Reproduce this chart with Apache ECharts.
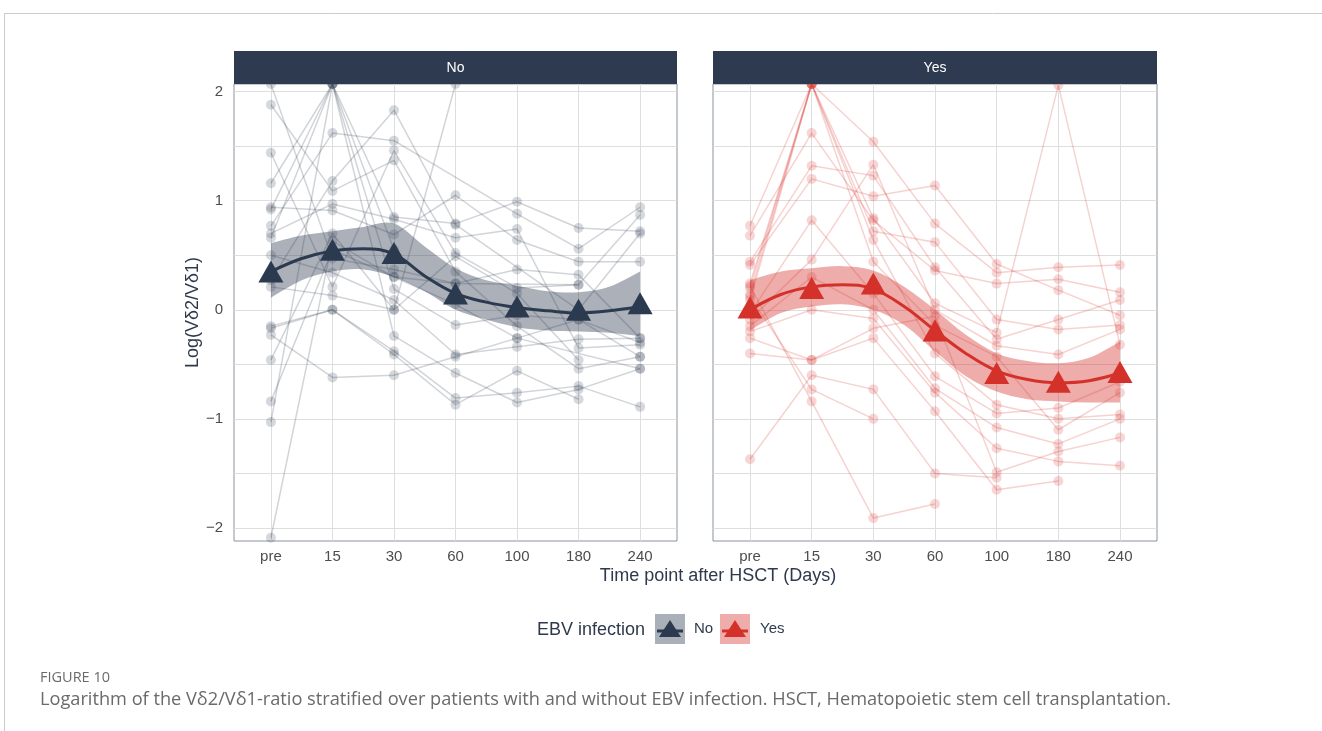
<!DOCTYPE html>
<html>
<head>
<meta charset="utf-8">
<script src="https://cdn.jsdelivr.net/npm/echarts@6/dist/echarts.min.js"></script>
<style>
  html, body { margin: 0; padding: 0; background: #ffffff; }
  #chart { width: 1322px; height: 731px; }
</style>
</head>
<body>
<div id="chart"></div>
<script>
// Time points after HSCT (x categories, placed at 0..6)
const timeLabels = ['pre', '15', '30', '60', '100', '180', '240'];
const panelNames = ['No', 'Yes'];
const yTickValues = [-2, -1.5, -1, -0.5, 0, 0.5, 1, 1.5, 2];
const yLabelValues = [-2, -1, 0, 1, 2];

// Individual patient trajectories, log(Vδ2/Vδ1) per time point (null = not measured)
const patientsNo = [
  [2.07, 0.47, 0.37, 0.24, 0.37, 0.32, -0.26],
  [1.88, 1.09, 1.37, 0.35, -0.15, -0.54, -0.43],
  [1.44, 0.21, 1.46, 0.52, 0.20, 0.23, 0.87],
  [1.16, 2.07, 0.85, 0.79, 0.99, 0.75, 0.72],
  [0.94, 0.91, 0.69, 1.05, 0.64, 0.44, 0.44],
  [0.92, 2.07, 0.19, -0.14, -0.05, -0.09, -0.30],
  [0.77, 1.62, 1.55, null, 0.88, 0.56, 0.94],
  [0.70, 0.97, 0.83, 0.66, 0.74, -0.35, -0.32],
  [0.66, 2.07, -0.24, -0.58, -0.85, -0.73, -0.54],
  [0.50, 0.34, 0.09, -0.41, -0.34, -0.27, -0.26],
  [0.27, 1.18, 1.83, 0.78, null, 0.00, 0.70],
  [0.21, 0.13, 0.00, 0.49, 0.15, -0.46, null],
  [-0.15, 0.00, -0.38, -0.81, -0.76, -0.70, -0.89],
  [-0.17, 0.00, -0.41, -0.87, -0.56, -0.82, null],
  [-0.23, -0.62, -0.60, -0.43, -0.26, -0.09, -0.43],
  [-0.46, 0.70, 0.00, 2.07, null, null, null],
  [-0.84, 0.55, 0.30, 0.05, -0.26, null, -0.54],
  [-1.03, 2.07, 0.55, null, null, null, null],
  [-2.09, 0.63, 0.30, 0.24, null, 0.23, null]
];
const patientsYes = [
  [0.20, 2.07, 1.54, 0.79, 0.34, 0.39, 0.41],
  [0.24, 2.07, 0.84, 0.06, -0.21, 2.06, -0.32],
  [0.14, 2.07, 0.72, 0.62, -0.09, -0.18, -0.14],
  [0.09, 2.07, 0.64, -0.40, -0.87, -1.00, -0.96],
  [0.77, 2.07, 0.44, -0.14, -0.43, -1.10, -0.76],
  [0.68, 1.62, 0.82, 0.36, 0.24, 0.28, 0.16],
  [0.44, 1.32, 1.23, 0.39, -0.27, -0.09, 0.09],
  [0.41, 1.20, 1.04, 1.14, 0.42, 0.18, -0.05],
  [-0.03, 0.82, 0.15, -0.61, -0.95, -0.90, -0.66],
  [-0.09, 0.46, 1.33, 0.00, -0.33, -0.41, -0.18],
  [-0.15, 0.30, 0.00, -0.72, -1.08, -1.23, -1.00],
  [-0.20, 0.00, -0.08, -0.76, -1.27, -1.39, -1.43],
  [-0.26, -0.46, -0.17, -0.06, -1.49, -1.30, -1.17],
  [-0.40, -0.46, -0.26, -0.93, -1.65, -1.57, null],
  [-1.37, -0.60, -0.73, -1.50, -1.54, null, null],
  [0.22, -0.84, -1.91, -1.78, null, null, null],
  [0.12, -0.73, -1.00, null, null, null, null]
];

// Group means per time point (triangles)
const meanNo = [0.35, 0.55, 0.52, 0.15, 0.03, 0.00, 0.06];
const meanYes = [0.02, 0.20, 0.24, -0.19, -0.58, -0.66, -0.57];

// Smoothed trend with confidence band, sampled at half steps
const fitX = [0, 0.5, 1, 1.5, 2, 2.5, 3, 3.5, 4, 4.5, 5, 5.5, 6];
const fitNo = [0.35, 0.47, 0.54, 0.56, 0.51, 0.31, 0.15, 0.07, 0.02, -0.01, -0.03, -0.01, 0.03];
const lowerNo = [0.11, 0.27, 0.35, 0.37, 0.30, 0.17, 0.00, -0.09, -0.16, -0.19, -0.20, -0.21, -0.24];
const upperNo = [0.61, 0.68, 0.72, 0.76, 0.79, 0.58, 0.38, 0.27, 0.22, 0.17, 0.16, 0.21, 0.35];
const fitYes = [0.00, 0.14, 0.21, 0.23, 0.19, 0.03, -0.19, -0.40, -0.56, -0.64, -0.67, -0.65, -0.58];
const lowerYes = [-0.19, -0.03, 0.03, 0.05, 0.00, -0.14, -0.38, -0.61, -0.75, -0.82, -0.84, -0.85, -0.85];
const upperYes = [0.27, 0.35, 0.38, 0.40, 0.36, 0.21, 0.00, -0.23, -0.40, -0.47, -0.49, -0.44, -0.29];

const colNo = '#2c3a4f';
const colYes = '#d5312b';
const textCol = '#4d4d4d';
const titleCol = '#2e3a4c';
const gridCol = '#dedede';
const fontFam = '"Liberation Sans", Arial, sans-serif';

const panels = [
  { left: 234, width: 443, color: colNo, band: 'rgba(44,58,79,0.4)', patients: patientsNo, mean: meanNo, fit: fitNo, lower: lowerNo, upper: upperNo },
  { left: 713, width: 444, color: colYes, band: 'rgba(213,49,43,0.4)', patients: patientsYes, mean: meanYes, fit: fitYes, lower: lowerYes, upper: upperYes }
];
const plotTop = 84, plotHeight = 457;

// Catmull-Rom spline through pixel points as cubic bezier path commands
function splineSegments(pts) {
  let d = '';
  for (let i = 0; i < pts.length - 1; i++) {
    const p0 = pts[Math.max(i - 1, 0)], p1 = pts[i], p2 = pts[i + 1], p3 = pts[Math.min(i + 2, pts.length - 1)];
    const c1 = [p1[0] + (p2[0] - p0[0]) / 6, p1[1] + (p2[1] - p0[1]) / 6];
    const c2 = [p2[0] - (p3[0] - p1[0]) / 6, p2[1] - (p3[1] - p1[1]) / 6];
    d += ' C' + c1[0] + ',' + c1[1] + ' ' + c2[0] + ',' + c2[1] + ' ' + p2[0] + ',' + p2[1];
  }
  return d;
}

const grids = [], xAxes = [], yAxes = [], series = [];
panels.forEach((p, gi) => {
  grids.push({
    left: p.left, width: p.width, top: plotTop, height: plotHeight,
    show: true, borderColor: '#8a939e', borderWidth: 1, backgroundColor: '#ffffff'
  });
  xAxes.push({
    type: 'value', gridIndex: gi, min: -0.6, max: 6.6,
    axisLine: { show: false },
    axisTick: { show: false, customValues: [0, 1, 2, 3, 4, 5, 6] },
    axisLabel: {
      customValues: [0, 1, 2, 3, 4, 5, 6],
      formatter: v => timeLabels[Math.round(v)],
      color: textCol, fontSize: 15, fontFamily: fontFam, margin: 8
    },
    splitLine: { show: true, lineStyle: { color: gridCol, width: 1 } }
  });
  yAxes.push({
    type: 'value', gridIndex: gi, min: -2.12, max: 2.07,
    axisLine: { show: false },
    axisTick: { show: false, customValues: yTickValues },
    axisLabel: {
      show: gi === 0,
      customValues: yLabelValues,
      formatter: v => (v < 0 ? '\u2212' + Math.abs(v) : String(v)),
      color: textCol, fontSize: 15, fontFamily: fontFam, margin: 11
    },
    splitLine: { show: true, lineStyle: { color: gridCol, width: 1 } },
    name: gi === 0 ? 'Log(Vδ2/Vδ1)' : '',
    nameLocation: 'middle', nameGap: 32, nameRotate: 90,
    nameTextStyle: { color: titleCol, fontSize: 18, fontFamily: fontFam }
  });

  // patient trajectories
  p.patients.forEach(row => {
    const pts = [];
    row.forEach((v, ti) => { if (v !== null) pts.push([ti, v]); });
    series.push({
      type: 'line', xAxisIndex: gi, yAxisIndex: gi,
      data: pts, showSymbol: true, symbol: 'circle', symbolSize: 10,
      itemStyle: { color: p.color, opacity: 0.2 },
      lineStyle: { color: p.color, opacity: 0.22, width: 1.5 },
      emphasis: { disabled: true }, silent: true, animation: false, z: 2
    });
  });

  // confidence band
  series.push({
    type: 'custom', xAxisIndex: gi, yAxisIndex: gi,
    data: fitX.map((x, i) => [x, p.lower[i], p.upper[i]]),
    encode: { x: 0, y: [1, 2] },
    renderItem: (params, api) => {
      if (params.dataIndex !== 0) return null;
      const up = fitX.map((x, i) => api.coord([x, p.upper[i]]));
      const lo = fitX.map((x, i) => api.coord([x, p.lower[i]])).reverse();
      const d = 'M' + up[0][0] + ',' + up[0][1] + splineSegments(up) +
        ' L' + lo[0][0] + ',' + lo[0][1] + splineSegments(lo) + ' Z';
      return { type: 'path', shape: { pathData: d }, style: { fill: p.band, stroke: null } };
    },
    silent: true, animation: false, z: 3
  });

  // smoothed trend line
  series.push({
    type: 'line', xAxisIndex: gi, yAxisIndex: gi,
    data: fitX.map((x, i) => [x, p.fit[i]]),
    smooth: 0.4, showSymbol: false,
    lineStyle: { color: p.color, width: 3 },
    silent: true, animation: false, z: 4
  });

  // group means
  series.push({
    type: 'scatter', xAxisIndex: gi, yAxisIndex: gi,
    data: p.mean.map((v, i) => [i, v]),
    symbol: 'triangle', symbolSize: [25, 22],
    itemStyle: { color: p.color, opacity: 1 },
    silent: true, animation: false, z: 5
  });
});

const graphics = [
  // figure frame
  { type: 'line', shape: { x1: 4, y1: 13.5, x2: 1322, y2: 13.5 }, style: { stroke: '#cccccc', lineWidth: 1 } },
  { type: 'line', shape: { x1: 4.5, y1: 13, x2: 4.5, y2: 731 }, style: { stroke: '#cccccc', lineWidth: 1 } },
  // x axis title
  { type: 'text', x: 718, y: 576, style: { text: 'Time point after HSCT (Days)', fill: titleCol, font: '18px ' + fontFam, align: 'center', verticalAlign: 'middle' } },
  // legend
  { type: 'text', x: 645, y: 630, style: { text: 'EBV infection', fill: titleCol, font: '18px ' + fontFam, align: 'right', verticalAlign: 'middle' } },
  // caption
  { type: 'text', x: 40, y: 678, style: { text: 'FIGURE 10', fill: '#6b6b6b', font: '14.5px "Open Sans", sans-serif', align: 'left', verticalAlign: 'middle' } },
  { type: 'text', x: 40, y: 700, style: { text: 'Logarithm of the Vδ2/Vδ1-ratio stratified over patients with and without EBV infection. HSCT, Hematopoietic stem cell transplantation.', fill: '#6a6a6a', font: '18.2px "Open Sans", sans-serif', align: 'left', verticalAlign: 'middle' } }
];

// facet strips
panels.forEach((p, gi) => {
  graphics.push({ type: 'rect', z: 100, shape: { x: p.left, y: 51, width: p.width, height: 33 }, style: { fill: '#2d3a4f' } });
  graphics.push({ type: 'text', z: 101, x: p.left + p.width / 2, y: 68, style: { text: panelNames[gi], fill: '#ffffff', font: '14px ' + fontFam, align: 'center', verticalAlign: 'middle' } });
});

// legend keys
const keys = [
  { x: 655, color: colNo, band: '#aab0b9', label: 'No', lx: 694 },
  { x: 720, color: colYes, band: '#eeadaa', label: 'Yes', lx: 760 }
];
keys.forEach(k => {
  const cx = k.x + 15, cy = 629;
  graphics.push({ type: 'rect', shape: { x: k.x, y: 614, width: 30, height: 30 }, style: { fill: k.band } });
  graphics.push({ type: 'line', shape: { x1: k.x + 2, y1: cy + 2, x2: k.x + 28, y2: cy + 2 }, style: { stroke: k.color, lineWidth: 3 } });
  graphics.push({ type: 'polygon', shape: { points: [[cx, cy - 9], [cx - 11, cy + 8], [cx + 11, cy + 8]] }, style: { fill: k.color } });
  graphics.push({ type: 'text', x: k.lx, y: cy, style: { text: k.label, fill: titleCol, font: '15px ' + fontFam, align: 'left', verticalAlign: 'middle' } });
});

const chart = echarts.init(document.getElementById('chart'), null, { renderer: 'canvas' });
chart.setOption({
  backgroundColor: '#ffffff',
  animation: false,
  grid: grids,
  xAxis: xAxes,
  yAxis: yAxes,
  series: series,
  graphic: { elements: graphics }
});
</script>
</body>
</html>
